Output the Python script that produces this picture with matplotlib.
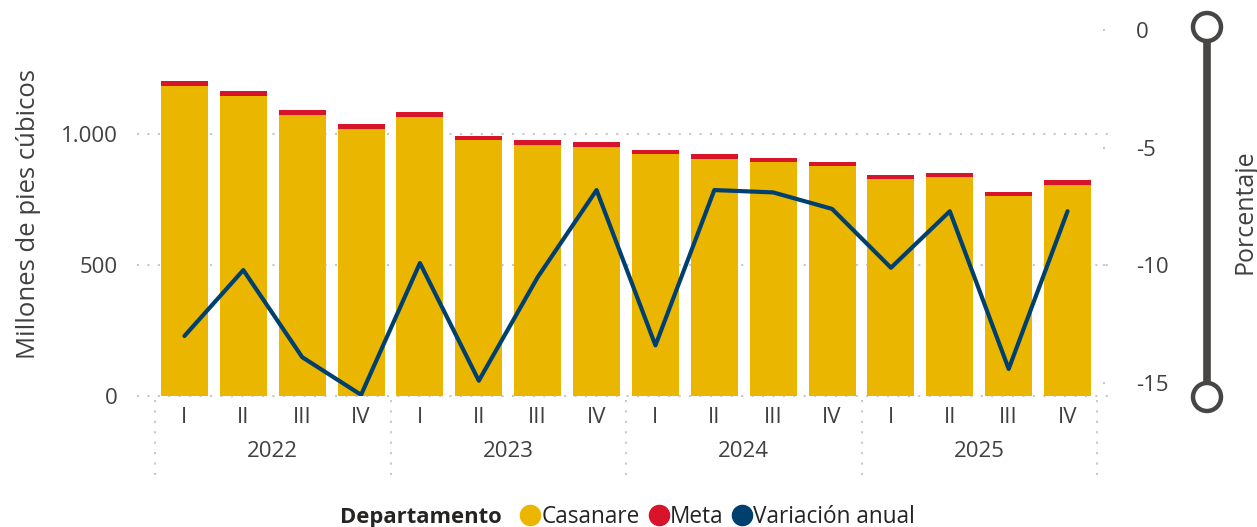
import numpy as np
import matplotlib
matplotlib.use("Agg")
import matplotlib.pyplot as plt
from matplotlib.lines import Line2D
from matplotlib.patches import Circle
import matplotlib.transforms as mtransforms

plt.rcParams['font.family'] = ['Open Sans', 'DejaVu Sans']

# datos
trimestres = ['I', 'II', 'III', 'IV'] * 4
anios = ['2022', '2023', '2024', '2025']
casanare = [1183, 1145, 1073, 1019, 1065, 977, 958, 950, 924, 905, 893, 878, 828, 836, 763, 805]
meta = [19, 19, 19, 19, 19, 15, 19, 19, 15, 19, 15, 15, 16, 15, 16, 19]
variacion = [-13.0, -10.2, -13.9, -15.5, -9.9, -14.9, -10.5, -6.8,
             -13.4, -6.8, -6.9, -7.6, -10.1, -7.7, -14.4, -7.7]

c_cas = '#EBB600'
c_meta = '#D7142A'
c_var = '#00406F'
c_txt = '#404040'
c_grid = '#C8C8C8'

W, H = 1257, 527
fig = plt.figure(figsize=(W / 100, H / 100), dpi=100)
ax = fig.add_axes([155 / W, 1 - 396 / H, 942 / W, 378 / H])
ax2 = ax.twinx()

x = np.arange(len(casanare))
ax.bar(x, casanare, width=0.8, color=c_cas, zorder=2)
ax.bar(x, meta, width=0.8, bottom=casanare, color=c_meta, zorder=2)
ax2.plot(x, variacion, color=c_var, lw=3, solid_joinstyle='round', solid_capstyle='round', zorder=3)

ax.set_xlim(-0.5, len(x) - 0.5)
ax.set_ylim(0, 1443)
ax2.set_ylim(-15.55, 0.51)

for a in (ax, ax2):
    for s in a.spines.values():
        s.set_visible(False)

# eje izquierdo
ax.set_yticks([0, 500, 1000])
ax.set_yticklabels(['0', '500', '1.000'])
ax.tick_params(axis='y', length=0, pad=27, labelsize=16, labelcolor=c_txt)
trans_y = mtransforms.blended_transform_factory(ax.transAxes, ax.transData)
for v in [0, 500, 1000]:
    ax.plot([-0.019, 1.017], [v, v], transform=trans_y, color=c_grid, lw=1.5,
            ls=(0, (1, 4)), clip_on=False, zorder=1)

# eje derecho
ax2.set_yticks([0, -5, -10, -15])
ax2.set_yticklabels(['0', '-5', '-10', '-15'])
ax2.tick_params(axis='y', length=0, pad=28, labelsize=16, labelcolor=c_txt)
trans_y2 = mtransforms.blended_transform_factory(ax2.transAxes, ax2.transData)
for v in [0, -5, -10, -15]:
    ax2.plot([1.006, 1.017], [v, v], transform=trans_y2, color=c_grid, lw=1.5,
             ls=(0, (1, 4)), clip_on=False)

# eje x jerarquico
ax.set_xticks(x)
ax.set_xticklabels(trimestres)
ax.tick_params(axis='x', length=0, pad=8, labelsize=16, labelcolor=c_txt)
trans_x = mtransforms.blended_transform_factory(ax.transData, ax.transAxes)
for i, anio in enumerate(anios):
    ax.text(i * 4 + 1.5, -0.148, anio, transform=trans_x, ha='center', va='center',
            fontsize=16, color=c_txt)
for sep in [-0.5, 3.5, 7.5, 11.5, 15.5]:
    ax.plot([sep, sep], [-0.011, -0.209], transform=trans_x, color=c_grid, lw=1.5,
            ls=(0, (1, 4)), clip_on=False)

fig.text(29 / W, 1 - 214 / H, 'Millones de pies cúbicos', rotation=90, ha='center', va='center',
         fontsize=18.5, color=c_txt)

# capa superior en pixeles para slider y leyenda
over = fig.add_axes([0, 0, 1, 1], facecolor='none')
over.set_xlim(0, W)
over.set_ylim(H, 0)
over.axis('off')

over.plot([1207, 1207], [27, 397], color='#474645', lw=5.5, solid_capstyle='butt', zorder=2)
for cy in [27, 397]:
    over.add_patch(Circle((1207, cy), 14, facecolor='white', edgecolor='#474645', lw=3.2, zorder=3))
over.text(1251, 212, 'Porcentaje', rotation=90, rotation_mode='anchor', ha='center',
          va='baseline', fontsize=18, color=c_txt)

# leyenda
over.text(340, 517, 'Departamento', fontsize=15.8, fontweight='bold', color='#252423',
          ha='left', va='center')
handles = [Line2D([], [], ls='none', marker='o', ms=14.5, color=c) for c in (c_cas, c_meta, c_var)]
leg = fig.legend(handles, ['Casanare', 'Meta', 'Variación anual'], loc='center left',
                 bbox_to_anchor=(522 / W, 1 - 517 / H), ncol=3, frameon=False,
                 fontsize=16.3, handlelength=0.75, handletextpad=0.12, columnspacing=0.45,
                 borderpad=0, borderaxespad=0)
for t in leg.get_texts():
    t.set_color('#252423')

fig.savefig('out.png', dpi=100)
